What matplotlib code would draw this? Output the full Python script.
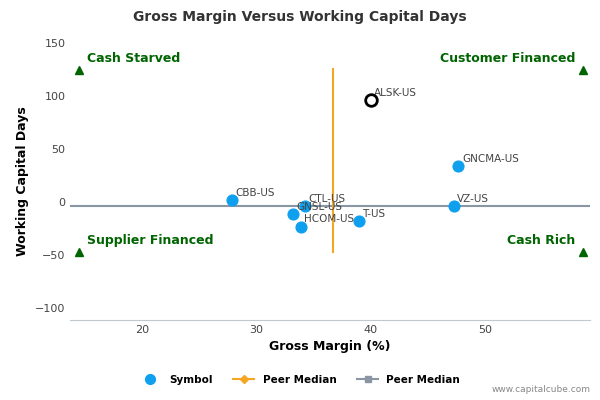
import matplotlib
matplotlib.use("Agg")
import matplotlib.pyplot as plt
from matplotlib.lines import Line2D

names = ["CBB-US", "CTL-US", "GNSL-US", "HCOM-US", "T-US", "VZ-US", "GNCMA-US"]
gm = [27.9, 34.3, 33.2, 33.9, 39.0, 47.3, 47.7]
wcd = [2, -4, -11, -23, -18, -4, 34]
focus_name = "ALSK-US"; focus_gm = 40.0; focus_wcd = 96
med_gm = 36.7; med_wcd = -4
vline_range = [-47, 125]
corner_x = [14.5, 58.6]
corner_y = [124, -47]
corner_labels = ["Cash Starved", "Customer Financed", "Supplier Financed", "Cash Rich"]

fig = plt.figure(figsize=(6, 4), dpi=100)
ax = fig.add_axes([0.117, 0.2, 0.866, 0.693])
ax.set_xlim(13.7, 59.2)
ax.set_ylim(-111, 150)
ax.axhline(med_wcd, color="#8a96a3", lw=1.5, zorder=1)
ax.plot([med_gm, med_gm], vline_range, color="#f5a623", lw=1.5, zorder=2)
ax.scatter(gm, wcd, s=60, color="#0ea0ee", zorder=3)
ax.scatter([focus_gm], [focus_wcd], s=70, facecolor="white", edgecolor="black", lw=2, zorder=4)
for n, x, y in zip(names, gm, wcd):
    ax.text(x + 0.3, y + 4, n, fontsize=7.5, color="#444444", zorder=5)
ax.text(focus_gm + 0.3, focus_wcd + 4, focus_name, fontsize=7.5, color="#444444")
pts = [(corner_x[0], corner_y[0]), (corner_x[1], corner_y[0]), (corner_x[0], corner_y[1]), (corner_x[1], corner_y[1])]
for (x, y), lab in zip(pts, corner_labels):
    ax.plot(x, y, marker="^", color="#006400", ms=6, clip_on=False)
    left = x < 30
    ax.text(x + (0.7 if left else -0.7), y + 8, lab, ha="left" if left else "right",
            fontsize=9, fontweight="bold", color="#006400")
ax.set_xticks([20, 30, 40, 50])
ax.set_yticks([-100, -50, 0, 50, 100, 150])
ax.tick_params(labelsize=8, colors="#444444", length=0)
for s in ["top", "right", "left"]:
    ax.spines[s].set_visible(False)
ax.spines["bottom"].set_color("#c0c8d0")
ax.set_xlabel("Gross Margin (%)", fontsize=9, fontweight="bold")
ax.set_ylabel("Working Capital Days", fontsize=9, fontweight="bold")
fig.suptitle("Gross Margin Versus Working Capital Days", x=0.5, y=0.975, fontsize=10, fontweight="bold", color="#333333")
handles = [Line2D([], [], marker="o", color="#0ea0ee", ls="", ms=7),
           Line2D([], [], marker="D", color="#f5a623", ms=4),
           Line2D([], [], marker="s", color="#8a96a3", ms=5)]
fig.legend(handles, ["Symbol", "Peer Median", "Peer Median"], loc="lower center",
           bbox_to_anchor=(0.5, 0.015), ncol=3, frameon=False, prop={"size": 7.5, "weight": "bold"})
fig.text(0.985, 0.02, "www.capitalcube.com", ha="right", fontsize=6.5, color="#888888")
fig.savefig("out.png")
